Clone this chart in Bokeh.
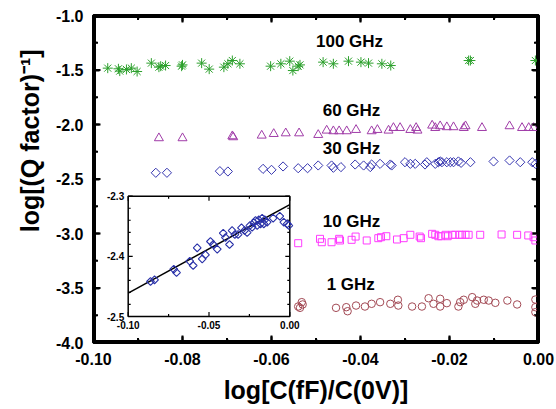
import numpy as np
from bokeh.plotting import figure
from bokeh.layouts import gridplot
from bokeh.models import Range1d, FixedTicker, NumeralTickFormatter, LinearAxis, Label
from bokeh.embed import file_html
from bokeh.resources import INLINE

# ---------------- data ----------------
x_lim = (-0.10, 0.00)
y_lim = (-4.0, -1.0)
x_ticks = [-0.10, -0.08, -0.06, -0.04, -0.02, 0.00]
x_minor = [-0.09, -0.07, -0.05, -0.03, -0.01]
y_ticks = [-4.0, -3.5, -3.0, -2.5, -2.0, -1.5, -1.0]
y_minor = [-3.75, -3.25, -2.75, -2.25, -1.75, -1.25]

ghz100_x = [-0.0968, -0.0944, -0.0941, -0.0926, -0.0915, -0.0902, -0.0870, -0.0853, -0.0849,
            -0.0838, -0.0802, -0.0800, -0.0757, -0.0740, -0.0707, -0.0698, -0.0688, -0.0671,
            -0.0602, -0.0579, -0.0559, -0.0552, -0.0540, -0.0536, -0.0484, -0.0461, -0.0427,
            -0.0399, -0.0382, -0.0352, -0.0332, -0.0157, -0.0153, -0.0007]
ghz100_y = [-1.483, -1.489, -1.510, -1.495, -1.483, -1.514, -1.437, -1.474, -1.465,
            -1.459, -1.465, -1.453, -1.437, -1.492, -1.474, -1.443, -1.413, -1.443,
            -1.465, -1.443, -1.419, -1.505, -1.465, -1.453, -1.428, -1.443, -1.419,
            -1.428, -1.437, -1.443, -1.459, -1.413, -1.413, -1.413]

ghz60_x = [-0.0853, -0.0800, -0.0688, -0.0686, -0.0622, -0.0595, -0.0568, -0.0538, -0.0495,
           -0.0476, -0.0461, -0.0448, -0.0431, -0.0410, -0.0375, -0.0362, -0.0337, -0.0326,
           -0.0311, -0.0288, -0.0275, -0.0272, -0.0239, -0.0232, -0.0221, -0.0206, -0.0191,
           -0.0168, -0.0164, -0.0127, -0.0065, -0.0037, -0.0022, -0.0011]
ghz60_y = [-2.125, -2.125, -2.107, -2.116, -2.101, -2.086, -2.080, -2.080, -2.095,
           -2.055, -2.061, -2.061, -2.061, -2.049, -2.061, -2.049, -2.055, -2.031,
           -2.031, -2.049, -2.031, -2.055, -2.009, -2.031, -2.015, -2.024, -2.024,
           -2.031, -2.015, -2.031, -2.015, -2.031, -2.031, -2.031]

ghz30_x = [-0.0860, -0.0835, -0.0716, -0.0698, -0.0619, -0.0600, -0.0574, -0.0540, -0.0519,
           -0.0495, -0.0465, -0.0461, -0.0444, -0.0412, -0.0393, -0.0378, -0.0375, -0.0356,
           -0.0333, -0.0330, -0.0300, -0.0288, -0.0277, -0.0255, -0.0251, -0.0232, -0.0225,
           -0.0221, -0.0217, -0.0206, -0.0198, -0.0191, -0.0180, -0.0174, -0.0153, -0.0101,
           -0.0065, -0.0041, -0.0014, -0.0007]
ghz30_y = [-2.443, -2.443, -2.428, -2.431, -2.407, -2.416, -2.385, -2.401, -2.401,
           -2.376, -2.376, -2.397, -2.391, -2.367, -2.376, -2.391, -2.367, -2.361,
           -2.367, -2.376, -2.346, -2.361, -2.361, -2.367, -2.346, -2.361, -2.346,
           -2.339, -2.346, -2.346, -2.346, -2.346, -2.339, -2.352, -2.346, -2.339,
           -2.330, -2.346, -2.346, -2.361]

ghz10_x = [-0.0540, -0.0491, -0.0487, -0.0465, -0.0448, -0.0446, -0.0420, -0.0411, -0.0386,
           -0.0360, -0.0354, -0.0342, -0.0318, -0.0303, -0.0288, -0.0267, -0.0264, -0.0239,
           -0.0232, -0.0225, -0.0219, -0.0209, -0.0204, -0.0194, -0.0187, -0.0177, -0.0172,
           -0.0164, -0.0157, -0.0131, -0.0083, -0.0048, -0.0023, -0.0011, -0.0007]
ghz10_y = [-3.089, -3.049, -3.080, -3.080, -3.049, -3.064, -3.058, -3.028, -3.064,
           -3.043, -3.034, -3.025, -3.055, -3.043, -3.012, -3.028, -3.043, -3.003,
           -3.012, -3.025, -3.025, -3.012, -3.025, -3.012, -3.012, -3.012, -3.012,
           -3.012, -3.012, -3.012, -3.009, -3.012, -3.018, -3.034, -3.064]

ghz1_x = [-0.0540, -0.0532, -0.0536, -0.0530, -0.0455, -0.0432, -0.0429, -0.0410, -0.0390,
          -0.0375, -0.0356, -0.0333, -0.0316, -0.0315, -0.0284, -0.0262, -0.0247, -0.0236,
          -0.0221, -0.0221, -0.0206, -0.0180, -0.0176, -0.0168, -0.0149, -0.0142, -0.0138,
          -0.0123, -0.0112, -0.0097, -0.0070, -0.0048, -0.0007, -0.0007, -0.0007]
ghz1_y = [-3.670, -3.630, -3.682, -3.651, -3.682, -3.676, -3.713, -3.661, -3.670,
          -3.645, -3.630, -3.645, -3.608, -3.661, -3.670, -3.670, -3.594, -3.645,
          -3.599, -3.670, -3.639, -3.670, -3.630, -3.608, -3.584, -3.645, -3.615,
          -3.608, -3.615, -3.636, -3.615, -3.651, -3.606, -3.676, -3.722]

series_names = ["100 GHz", "60 GHz", "30 GHz", "10 GHz", "1 GHz"]

# inset (30 GHz, zoomed)
inset_x_range = (-0.10, 0.00)
inset_y_range = (-2.5, -2.3)
inset_x_ticks = [-0.10, -0.05, 0.00]
inset_x_minor = [-0.075, -0.025]
inset_y_ticks = [-2.5, -2.4, -2.3]
inset_y_minor = [-2.48, -2.46, -2.44, -2.42, -2.38, -2.36, -2.34, -2.32]
inset_x_labels = ["-0.10", "-0.05", "0.00"]
inset_y_labels = ["-2.5", "-2.4", "-2.3"]

inset_x = [-0.0862, -0.0837, -0.0718, -0.0701, -0.0619, -0.0598, -0.0573, -0.0542, -0.0522,
           -0.0491, -0.0474, -0.0449, -0.0412, -0.0398, -0.0373, -0.0357, -0.0340, -0.0320,
           -0.0299, -0.0280, -0.0264, -0.0247, -0.0233, -0.0223, -0.0212, -0.0202, -0.0192,
           -0.0181, -0.0171, -0.0161, -0.0155, -0.0140, -0.0103, -0.0062, -0.0037, -0.0016,
           -0.0006]
inset_y = [-2.4418, -2.4391, -2.4213, -2.4269, -2.4080, -2.4152, -2.3859, -2.4042, -2.3975,
           -2.3753, -2.3803, -2.3881, -2.3615, -2.3687, -2.3803, -2.3571, -2.3637, -2.3637,
           -2.3526, -2.3571, -2.3604, -2.3488, -2.3515, -2.3443, -2.3404, -2.3488, -2.3393,
           -2.3460, -2.3366, -2.3460, -2.3393, -2.3432, -2.3366, -2.3332, -2.3432, -2.3460,
           -2.3488]
fit_x = [-0.10, 0.00]
fit_y = [-2.461, -2.314]

# ---------------- figure ----------------
FONT = "Liberation Sans"
FRAME_W, FRAME_H = 445.0, 327.0   # frame size in px (556x409 minus borders)

p = figure(width=556, height=409, output_backend="svg", toolbar_location=None,
           x_range=Range1d(*x_lim), y_range=Range1d(*y_lim),
           min_border_left=93, min_border_right=18, min_border_top=15, min_border_bottom=67)
p.grid.visible = False
p.outline_line_color = "black"
p.outline_line_width = 3

xax = p.xaxis[0]
yax = p.yaxis[0]


def style_axis(ax, ticks, minor, fmt, labels=True):
    ax.ticker = FixedTicker(ticks=ticks, minor_ticks=minor)
    ax.formatter = NumeralTickFormatter(format=fmt)
    ax.axis_line_width = 3
    ax.axis_line_color = "black"
    ax.major_tick_in = 6
    ax.major_tick_out = 0
    ax.minor_tick_in = 3
    ax.minor_tick_out = 0
    ax.major_tick_line_color = "black"
    ax.minor_tick_line_color = "black"
    ax.major_tick_line_width = 2
    ax.minor_tick_line_width = 2
    ax.major_label_text_font = FONT
    ax.major_label_text_font_style = "bold"
    ax.major_label_text_font_size = "16px"
    if labels:
        ax.major_label_text_color = "black"
        ax.major_label_standoff = 10
    else:
        ax.major_label_text_color = None
        ax.major_label_standoff = 0


style_axis(xax, x_ticks, x_minor, "0.00")
style_axis(yax, y_ticks, y_minor, "0.0")
top_ax = LinearAxis()
right_ax = LinearAxis()
style_axis(top_ax, x_ticks, x_minor, "0.00", labels=False)
style_axis(right_ax, y_ticks, y_minor, "0.0", labels=False)
p.add_layout(top_ax, "above")
p.add_layout(right_ax, "right")

for ax in (xax, yax):
    ax.axis_label_text_font = FONT
    ax.axis_label_text_font_style = "bold"
    ax.axis_label_text_font_size = "25px"
    ax.axis_label_text_color = "black"
xax.axis_label = "log[C(fF)/C(0V)]"
xax.axis_label_standoff = 8
# leading no-break spaces move the centred label up towards where the reference has it
yax.axis_label = "\u00a0" * 11 + "log[(Q factor)\u207b\u00b9]"
yax.axis_label_standoff = 9

# ---- frame edges and inward ticks as "dash" markers (markers are known to render here) ----
xpp = (x_lim[1] - x_lim[0]) / FRAME_W
ypp = (y_lim[1] - y_lim[0]) / FRAME_H
mid_x = (x_lim[0] + x_lim[1]) / 2
mid_y = (y_lim[0] + y_lim[1]) / 2
p.scatter(x=[mid_x, mid_x, x_lim[0], x_lim[1]], y=[y_lim[0], y_lim[1], mid_y, mid_y],
          size=[FRAME_W + 10, FRAME_W + 10, FRAME_H + 10, FRAME_H + 10],
          angle=[0, 0, np.pi / 2, np.pi / 2], marker="dash",
          line_color="black", line_width=5)

tx, ty, ts, ta = [], [], [], []
for ticks, L in ((x_ticks, 7.0), (x_minor, 4.5)):
    for t in ticks:
        for edge, sgn in ((y_lim[0], 1), (y_lim[1], -1)):
            tx.append(t); ty.append(edge + sgn * (L / 2) * ypp); ts.append(L); ta.append(np.pi / 2)
for ticks, L in ((y_ticks, 7.0), (y_minor, 4.5)):
    for t in ticks:
        for edge, sgn in ((x_lim[0], 1), (x_lim[1], -1)):
            tx.append(edge + sgn * (L / 2) * xpp); ty.append(t); ts.append(L); ta.append(0.0)
p.scatter(x=tx, y=ty, size=ts, angle=ta, marker="dash", line_color="black", line_width=2)

# main series
p.scatter(ghz100_x, ghz100_y, marker="asterisk", size=10, line_color="#2ca02c", line_width=1)
p.scatter(ghz60_x, ghz60_y, marker="triangle", size=9, fill_color=None,
          line_color="#a03ca8", line_width=1)
p.scatter(ghz30_x, ghz30_y, marker="square", angle=np.pi / 4, size=6.5, fill_color=None,
          line_color="#3636b0", line_width=1)
p.scatter(ghz10_x, ghz10_y, marker="square", size=7, fill_color=None,
          line_color="#ff3cff", line_width=1)
p.scatter(ghz1_x, ghz1_y, marker="circle", size=7.5, fill_color=None,
          line_color="#a34a55", line_width=1)

label_pos = [(-0.0500, -1.239), (-0.0485, -1.872), (-0.0485, -2.218),
             (-0.0485, -2.890), (-0.0476, -3.472)]
for name, (lx, ly) in zip(series_names, label_pos):
    p.add_layout(Label(x=lx, y=ly, text=name, text_align="left", text_baseline="middle",
                       text_font=FONT, text_font_style="bold", text_font_size="17px",
                       text_color="black"))

# ---------------- inset ----------------
# inset box occupies screen px x 127.7..289.3, y 195.7..316 in a frame of 93..538 / 15..342
ix_pp = (inset_x_range[1] - inset_x_range[0]) / 161.6
iy_pp = (inset_y_range[1] - inset_y_range[0]) / 120.3
p.extra_x_ranges = {"ix": Range1d(inset_x_range[0] - (127.7 - 93) * ix_pp,
                                  inset_x_range[1] + (538 - 289.3) * ix_pp)}
p.extra_y_ranges = {"iy": Range1d(inset_y_range[0] - (342 - 316) * iy_pp,
                                  inset_y_range[1] + (195.7 - 15) * iy_pp)}
kw = dict(x_range_name="ix", y_range_name="iy")


def tick_segments(xt, xm, yt, ym, xr, yr, xp, yp, major_len, minor_len):
    s = {"x0": [], "y0": [], "x1": [], "y1": []}

    def add(a, b, c, d):
        s["x0"].append(a); s["y0"].append(b); s["x1"].append(c); s["y1"].append(d)

    for ticks, L in ((xt, major_len), (xm, minor_len)):
        for t in ticks:
            add(t, yr[0], t, yr[0] + L * yp)
            add(t, yr[1], t, yr[1] - L * yp)
    for ticks, L in ((yt, major_len), (ym, minor_len)):
        for t in ticks:
            add(xr[0], t, xr[0] + L * xp, t)
            add(xr[1], t, xr[1] - L * xp, t)
    return s


x0, x1 = inset_x_range
y0, y1 = inset_y_range
p.quad(left=[x0], right=[x1], bottom=[y0], top=[y1], fill_color="white",
       line_color="black", line_width=1.5, **kw)
isegs = tick_segments(inset_x_ticks, inset_x_minor, inset_y_ticks, inset_y_minor,
                      inset_x_range, inset_y_range, ix_pp, iy_pp, 4.5, 2.5)
p.segment(line_color="black", line_width=1.2, **isegs, **kw)

p.line(fit_x, fit_y, line_color="black", line_width=1.5, **kw)
p.scatter(inset_x, inset_y, marker="square", angle=np.pi / 4, size=5.5, fill_color=None,
          line_color="#2830a8", line_width=1.1, **kw)

# inset tick labels as annotations (positioned on the inset's own scales)
for t, s in zip(inset_x_ticks, inset_x_labels):
    p.add_layout(Label(x=t, y=y0, text=s, y_offset=-4, text_align="center",
                       text_baseline="top", text_font=FONT, text_font_style="bold",
                       text_font_size="10px", text_color="black", **kw))
for t, s in zip(inset_y_ticks, inset_y_labels):
    p.add_layout(Label(x=x0, y=t, text=s, x_offset=-4, text_align="right",
                       text_baseline="middle", text_font=FONT, text_font_style="bold",
                       text_font_size="10px", text_color="black", **kw))

layout = gridplot([[p]], toolbar_location=None)
open("out.html", "w").write(file_html(layout, INLINE))
